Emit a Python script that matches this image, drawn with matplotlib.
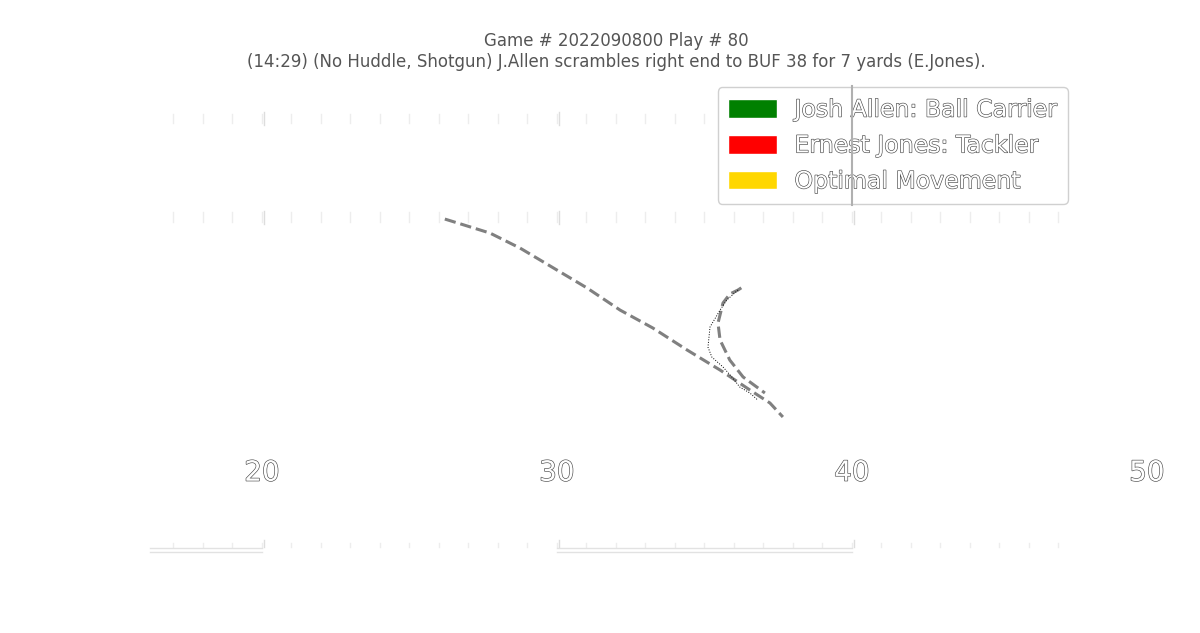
import matplotlib
matplotlib.use("Agg")
import matplotlib.pyplot as plt
import matplotlib.patheffects as pe
from matplotlib.patches import Patch

# ---- data ----
title_line1 = "Game # 2022090800 Play # 80"
title_line2 = "(14:29) (No Huddle, Shotgun) J.Allen scrambles right end to BUF 38 for 7 yards (E.Jones)."

yard_number_x = [30, 40, 50, 60]
yard_number_labels = ["20", "30", "40", "50"]

path_a_x = [36.20, 37.73, 38.75, 40.00, 41.02, 42.14, 43.25, 44.41, 45.53, 46.54, 47.22, 47.66]
path_a_y = [23.11, 22.14, 21.10, 19.58, 18.34, 16.81, 15.57, 14.05, 12.66, 11.28, 10.38, 9.41]

path_b_x = [46.25, 46.14, 45.86, 45.63, 45.46, 45.53, 45.86, 46.31, 47.05]
path_b_y = [18.35, 18.20, 17.92, 17.30, 15.91, 14.74, 13.35, 12.18, 11.07]

optimal_x = [46.14, 45.76, 45.53, 45.19, 45.12, 45.25, 45.63, 45.93, 46.20, 46.54, 46.81]
optimal_y = [18.20, 17.51, 16.81, 15.64, 14.25, 13.56, 12.87, 12.18, 11.48, 11.07, 10.58]

marker_line_x = 50
marker_line_y = [24.1, 32.3]

legend_labels = ["Josh Allen: Ball Carrier", "Ernest Jones: Tackler", "Optimal Movement"]
legend_colors = ["green", "red", "gold"]

# ---- figure ----
fig = plt.figure(figsize=(12, 6.33), dpi=100)
ax = fig.add_axes([0, 0, 1, 1])
ax.set_xlim(21.12, 61.80)
ax.set_ylim(-5.54, 38.27)
ax.axis("off")
fig.patch.set_facecolor("white")

# field markings (very faint on white)
tick_col = "#ededed"
for x in range(27, 58):
    for y0, y1 in [(0.4, 0.7), (22.91, 23.57), (29.73, 30.39)]:
        ax.plot([x, x], [y0, y1], color=tick_col, lw=1, zorder=1)
for x in range(30, 60, 10):
    for y0, y1 in [(0.4, 0.9), (22.8, 23.7), (29.6, 30.5)]:
        ax.plot([x + 0.06, x + 0.06], [y0, y1], color="#dddddd", lw=1, zorder=1)
for xs in [(26.2, 30), (40, 50)]:
    ax.plot(xs, [0.35, 0.35], color="#e2e2e2", lw=1, zorder=1)
    ax.plot(xs, [0.08, 0.08], color="#e2e2e2", lw=1, zorder=1)

outline = [pe.withStroke(linewidth=0.9, foreground="#4a4a4a")]
for x, lab in zip(yard_number_x, yard_number_labels):
    ax.text(x, 5, lab, ha="center", fontsize=20, color="white",
            path_effects=outline, zorder=2)

# trajectories
ax.plot(path_a_x, path_a_y, color="gray", ls="--", lw=2.2, zorder=3)
ax.plot(path_b_x, path_b_y, color="gray", ls="--", lw=2.2, zorder=3)
ax.plot(optimal_x, optimal_y, color="black", ls=":", lw=0.7, zorder=4)

# legend
handles = [Patch(facecolor=c, edgecolor="white", label=l) for c, l in zip(legend_colors, legend_labels)]
leg = ax.legend(handles=handles, loc="upper right", bbox_to_anchor=(1068 / 1200, 1 - 87 / 633),
                bbox_transform=fig.transFigure, fontsize=17, handlelength=2.05,
                handleheight=0.85, labelspacing=0.5, borderpad=0.45, borderaxespad=0,
                handletextpad=0.75, frameon=True, framealpha=1, edgecolor="#d0d0d0",
                facecolor="white")
for t in leg.get_texts():
    t.set_color("white")
    t.set_path_effects(outline)
leg.set_zorder(5)

ax.plot([marker_line_x, marker_line_x], marker_line_y, color="#b0b0b0", lw=1.5, zorder=6)

fig.text(616 / 1200, 1 - 41 / 633, title_line1, ha="center", va="center", fontsize=12, color="#555555")
fig.text(616 / 1200, 1 - 62 / 633, title_line2, ha="center", va="center", fontsize=12, color="#555555")

fig.savefig("out.png", dpi=100, facecolor="white")
